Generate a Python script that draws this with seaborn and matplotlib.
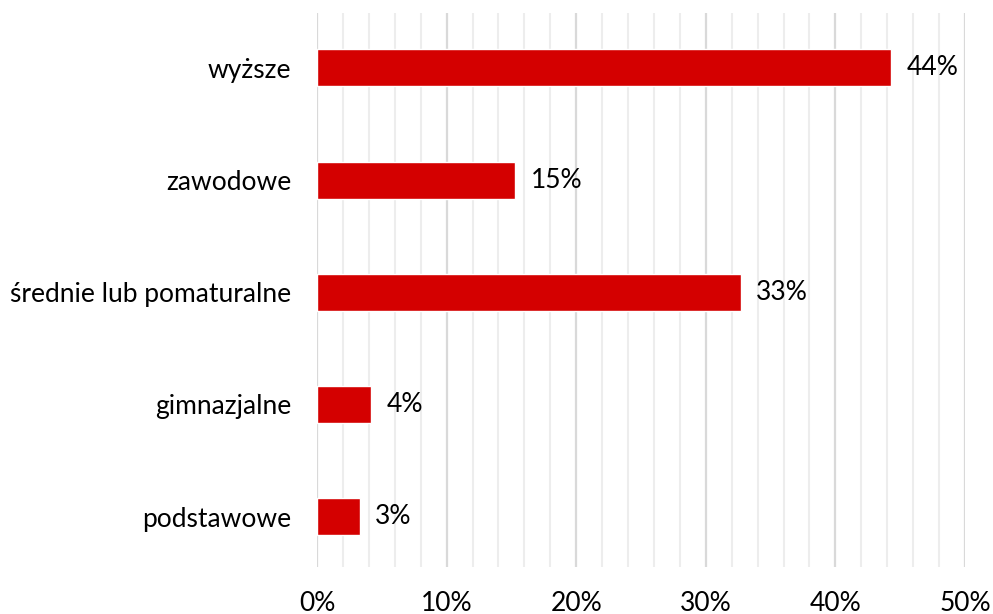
import matplotlib
matplotlib.use("Agg")
import matplotlib.pyplot as plt
from matplotlib.ticker import MultipleLocator, FuncFormatter
import seaborn as sns
import pandas as pd

categories = ["wyższe", "zawodowe", "średnie lub pomaturalne", "gimnazjalne", "podstawowe"]
values = [44.3, 15.3, 32.7, 4.2, 3.3]
labels = ["44%", "15%", "33%", "4%", "3%"]

sns.set_style("white")
plt.rcParams['font.family'] = ['Lato', 'DejaVu Sans']

df = pd.DataFrame({"cat": categories, "val": values})

fig = plt.figure(figsize=(9.93, 6.14), dpi=100)
ax = fig.add_axes([317/993, 1 - 567/614, (965-317)/993, (567-13)/614])

sns.barplot(data=df, x="val", y="cat", orient="h", color="#D40000",
            saturation=1, width=0.33, ax=ax, zorder=3)

FS = 19
ax.set_xlim(0, 50)
ax.set_ylim(4.45, -0.49)
ax.xaxis.set_major_locator(MultipleLocator(10))
ax.xaxis.set_minor_locator(MultipleLocator(2))
ax.xaxis.set_major_formatter(FuncFormatter(lambda v, p: f"{v:.0f}%"))
ax.grid(axis="x", which="minor", color="#ededed", linewidth=1.5, zorder=0)
ax.grid(axis="x", which="major", color="#d9d9d9", linewidth=1.6, zorder=1)
ax.set_axisbelow(True)
for s in ax.spines.values():
    s.set_visible(False)
ax.tick_params(axis="both", which="both", length=0)
ax.tick_params(axis="x", pad=17, labelsize=FS, colors="#000000")
ax.tick_params(axis="y", pad=18.5, labelsize=FS, colors="#000000")
ax.set_xlabel("")
ax.set_ylabel("")

for i, (v, lab) in enumerate(zip(values, labels)):
    ax.text(v + 1.2, i, lab, va="center", ha="left", fontsize=FS, color="#000000")

fig.savefig("out.png", dpi=100)
